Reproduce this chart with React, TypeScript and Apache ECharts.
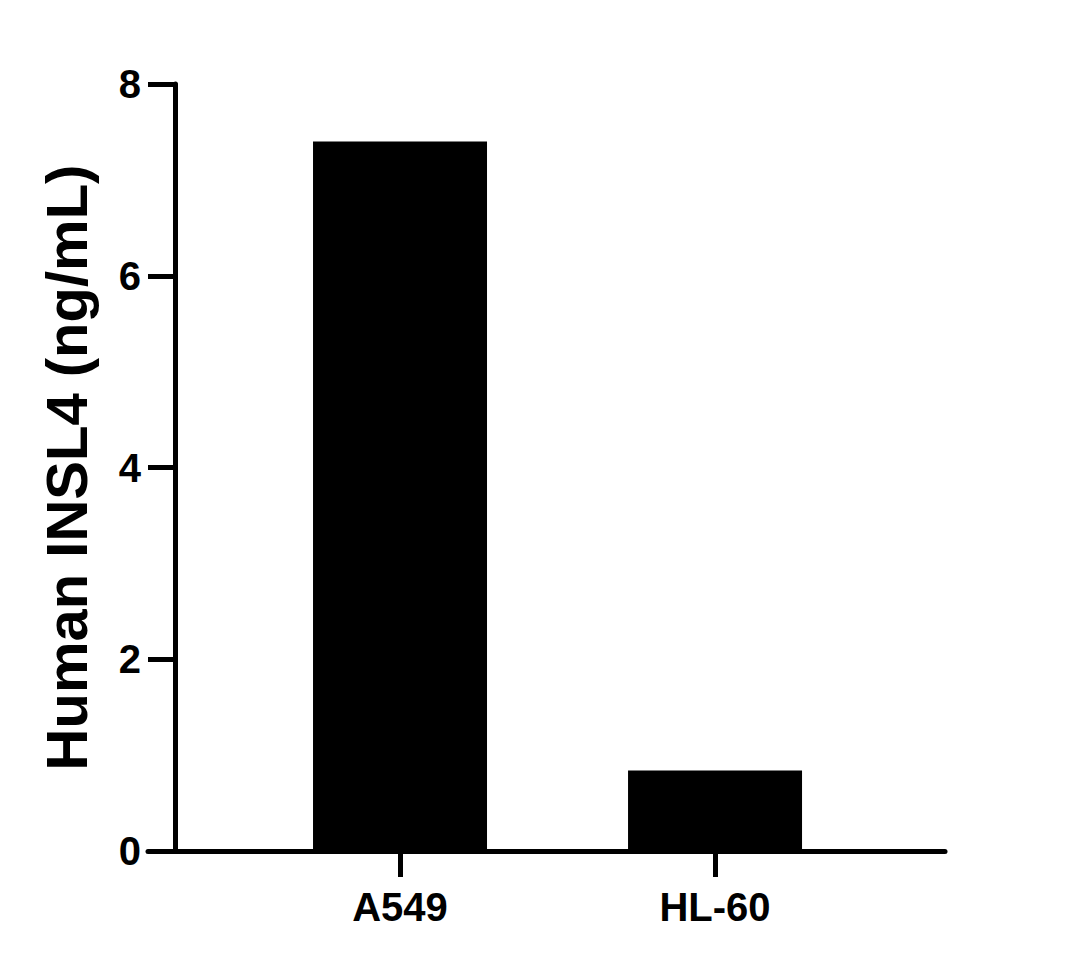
import { useEffect, useRef } from "react";
import * as echarts from "echarts";

const categories = ["A549", "HL-60"];
const values = [7.4, 0.84];
const yTicks = [0, 2, 4, 6, 8];
const yTitle = "Human INSL4 (ng/mL)";

const FONT = "Arial, 'Liberation Sans', Helvetica, sans-serif";

export default function App() {
  const ref = useRef<HTMLDivElement | null>(null);

  useEffect(() => {
    if (!ref.current) return;
    const chart = echarts.init(ref.current, undefined, { renderer: "svg" });
    const positions = categories.map((_, i) => i + 1);

    chart.setOption({
      animation: false,
      backgroundColor: "#ffffff",
      grid: { left: 148, right: 131, top: 84, bottom: 118, containLabel: false },
      xAxis: {
        type: "value",
        min: 0.2,
        max: 2.73,
        splitLine: { show: false },
        axisLine: { show: true, onZero: false, lineStyle: { color: "#000", width: 5 } },
        axisTick: {
          show: true,
          customValues: positions,
          length: 26,
          lineStyle: { color: "#000", width: 5 },
        },
        axisLabel: {
          customValues: positions,
          margin: 36,
          color: "#000",
          fontFamily: FONT,
          fontWeight: "bold",
          fontSize: 40,
          formatter: (v: number) => categories[Math.round(v) - 1] ?? "",
        },
      },
      yAxis: {
        type: "value",
        min: yTicks[0],
        max: yTicks[yTicks.length - 1],
        interval: 2,
        offset: -27,
        splitLine: { show: false },
        axisLine: { show: true, onZero: false, lineStyle: { color: "#000", width: 5 } },
        axisTick: { show: true, length: 27, lineStyle: { color: "#000", width: 5 } },
        axisLabel: {
          margin: 34,
          color: "#000",
          fontFamily: FONT,
          fontWeight: "bold",
          fontSize: 40,
        },
        name: yTitle,
        nameLocation: "middle",
        nameGap: 80,
        nameTextStyle: {
          color: "#000",
          fontFamily: FONT,
          fontWeight: "bold",
          fontSize: 58,
        },
      },
      series: [
        {
          type: "bar",
          data: positions.map((p, i) => [p, values[i]]),
          barWidth: 174,
          itemStyle: { color: "#000" },
        },
      ],
    });

    return () => chart.dispose();
  }, []);

  return (
    <div style={{ position: "fixed", left: 0, top: 0, width: 1076, height: 969, background: "#fff" }}>
      <div ref={ref} style={{ width: 1076, height: 969 }} />
    </div>
  );
}
